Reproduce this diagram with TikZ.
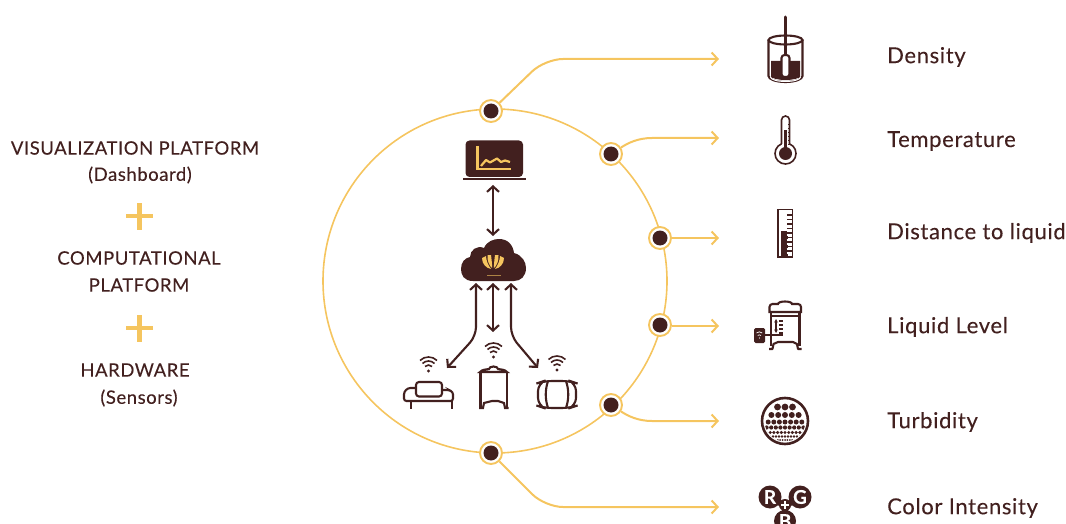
\documentclass[tikz,border=0pt]{standalone}
\usepackage{fontspec}
\setmainfont{Lato}[LetterSpace=3,FakeBold=0.12]
\usetikzlibrary{arrows.meta}
\definecolor{gold}{HTML}{F5C55F}
\definecolor{brn}{HTML}{42201F}
\tikzset{
  x=1pt,y=-1pt,
  hub/.style={circle,draw=gold,line width=1.9pt,fill=white,minimum size=22pt,inner sep=0pt,
    path picture={\fill[brn] (path picture bounding box.center) circle (7.5pt);}},
  link/.style={draw=gold,line width=2pt,rounded corners=18pt,-{Straight Barb[length=6pt,width=13pt]}},
  twoway/.style={draw=brn,line width=2.1pt,{Straight Barb[length=5.5pt,width=12pt]}-{Straight Barb[length=5.5pt,width=12pt]}},
  twowayr/.style={twoway,rounded corners=9pt},
  lab/.style={font=\fontsize{22}{24}\selectfont,text=brn,anchor=west,inner sep=0pt},
  ltxt/.style={font=\fontsize{18.5}{20}\selectfont,text=brn,inner sep=0pt},
  plusm/.style={draw=gold,line width=4.6pt},
  ic/.style={draw=brn,line width=2.1pt},
  wf/.style={draw=brn,line width=1.6pt},
  rgbt/.style={inner sep=0pt,text=white,font=\fontsize{19}{19}\selectfont\bfseries},
}
\newcommand{\wifi}[2]{%
  \fill[brn] (#1,#2) circle (1.6pt);
  \draw[wf] (#1-3.5,#2-4.5) arc[start angle=135,end angle=45,radius=5pt];
  \draw[wf] (#1-6,#2-7.5) arc[start angle=135,end angle=45,radius=8.5pt];
  \draw[wf] (#1-8.5,#2-10.5) arc[start angle=135,end angle=45,radius=12pt];
}
\begin{document}
\begin{tikzpicture}
\useasboundingbox (0,0) rectangle (1066,524);
\clip (0,0) rectangle (1066,524);
% main ring
\draw[gold,line width=1.6pt] (495,281) circle (172pt);
% hubs
\node[hub] (h1) at (491,111) {};
\node[hub] (h2) at (611,154) {};
\node[hub] (h3) at (660,238) {};
\node[hub] (h4) at (660,325) {};
\node[hub] (h5) at (611,405) {};
\node[hub] (h6) at (491,453) {};
\coordinate (t1) at (719,59);
\coordinate (t2) at (719,138);
\coordinate (t3) at (719,238);
\coordinate (t4) at (719,326);
\coordinate (t5) at (719,421);
\coordinate (t6) at (719,507);
\draw[link] (h1) -- (545,59) -- (t1);
\draw[link,rounded corners=0] (h2) .. controls (628,143) and (638,138) .. (652,138) -- (t2);
\draw[link] (h3) -- (t3);
\draw[link] (h4.east |- t4) -- (t4);
\draw[link,rounded corners=0] (h5) .. controls (628,416) and (638,421) .. (652,421) -- (t5);
\draw[link] (h6) -- (545,507) -- (t6);

% right labels
\node[lab] (l1) at (887,57) {Density};
\node[lab] (l2) at (887,141) {Temperature};
\node[lab] (l3) at (887,233) {Distance to liquid};
\node[lab] (l4) at (887,327) {Liquid Level};
\node[lab] (l5) at (887,422) {Turbidity};
\node[lab] (l6) at (887,508) {Color Intensity};

% left text
\node[ltxt] (a1) at (135,148) {VISUALIZATION PLATFORM};
\node[ltxt] (a2) at (140,175) {(Dashboard)};
\node[ltxt] (b1) at (139,258) {COMPUTATIONAL};
\node[ltxt] (b2) at (139,285) {PLATFORM};
\node[ltxt] (c1) at (135,370) {HARDWARE};
\node[ltxt] (c2) at (139,398) {(Sensors)};
\draw[plusm] (126,216) -- (153,216) (139.5,203) -- (139.5,230);
\draw[plusm] (126,328) -- (153,328) (139.5,315) -- (139.5,342);

% density icon
\fill[brn] (771,61) rectangle (800,78) (771,76) arc[start angle=180,end angle=360,x radius=14.5pt,y radius=4pt] -- cycle;
\draw[ic] (768.5,40) -- (768.5,76) arc[start angle=180,end angle=360,x radius=17pt,y radius=6pt] -- (802.5,40);
\draw[ic] (785.5,40) ellipse (17pt and 4.5pt);
\draw[ic,line width=3pt,line cap=round] (785.5,17) -- (785.5,56);
\draw[ic,fill=white,rounded corners=3pt] (781.5,55) rectangle (789.5,77);
\draw[white,line width=1pt] (770.5,77) arc[start angle=180,end angle=360,x radius=15pt,y radius=4.5pt];

% thermometer
\draw[ic,line width=1.6pt,fill=white] (781.5,143.8) -- (781.5,120) arc[start angle=180,end angle=0,radius=4pt] -- (789.5,143.8) arc[start angle=67.6,end angle=-247.6,radius=10.5pt];
\fill[brn] (785.5,153.5) circle (6.5pt);
\fill[brn] (784,130) rectangle (787,150);
\foreach \yy in {124,128,...,144}{\draw[brn,line width=.8pt] (788,\yy) -- (789.5,\yy);}

% ruler
\draw[ic,line width=1.6pt] (778,209.5) rectangle (792.5,257);
\fill[brn] (781,231) rectangle (788,256);
\foreach \yy in {215,219.5,...,252}{\draw[white,line width=1.6pt] (786.5,\yy+2.2) -- (792,\yy+2.2);\draw[brn,line width=1.4pt] (787,\yy) -- (792,\yy);}

% tank (liquid level)
\draw[ic,fill=white] (769.5,312) -- (769.5,307) arc[start angle=180,end angle=90,radius=3pt] -- (778,304) arc[start angle=180,end angle=0,x radius=7pt,y radius=2.5pt] -- (798,304) arc[start angle=90,end angle=0,radius=3pt] -- (801,312) -- cycle;
\draw[ic] (771,312) -- (771,346) (799.5,312) -- (799.5,346);
\draw[ic] (771,316) -- (799.5,316);
\draw[ic,line join=round] (769,349) -- (772.5,349) -- (773.5,344) -- (778,342) -- (793,342) -- (797,344) -- (798,349) -- (801.5,349);
\draw[ic,line width=1.2pt,{Stealth[length=3.5pt,width=3.5pt]}-{Stealth[length=3.5pt,width=3.5pt]}] (776,319) -- (776,333);
\foreach \yy in {321,325,329,333}{\draw[brn,line width=1.1pt] (779,\yy) -- (783,\yy);}
\draw[brn,line width=1.2pt] (765,335) -- (783,335);
\fill[brn,rounded corners=1.5pt] (754,328) rectangle (765,343);
\draw[white,line width=.7pt] (756.5,333) arc[start angle=135,end angle=45,radius=4pt];
\draw[white,line width=.7pt] (757.8,335.5) arc[start angle=135,end angle=45,radius=2.2pt];
\fill[white] (759.5,338) circle (.7pt);

% turbidity
\draw[ic,line width=2.6pt] (785,421) circle (23pt);
\begin{scope}
\clip (785,421) circle (20.5pt);
\foreach \yy/\rr/\st/\nn in {407/3.4/7.5/3,415/3/6.8/5,422/2.5/5.6/7,427.5/2.1/4.6/9,432.5/1.7/3.7/11,436.5/1.3/3/13,440/1/2.4/15}{
  \foreach \ii in {1,...,\nn}{\fill[brn] ({785+(\ii-(\nn+1)/2)*\st},\yy) circle (\rr pt);}
}
\end{scope}

% RGB
\draw[brn,line width=6pt] (770,497) -- (785,506) -- (800,497) (785,506) -- (785,520);
\fill[brn] (770,497) circle (11.5pt) (800,497) circle (11.5pt) (785,521) circle (11pt) (785,505) circle (6pt);
\node[rgbt] (cr) at (770,497) {R};
\node[rgbt] (cg) at (800,497) {G};
\node[rgbt] (cb) at (785,521) {B};
\draw[white,line width=1.6pt] (781,505) -- (789,505) (785,501) -- (785,509);

% laptop
\fill[brn,rounded corners=4pt] (465.5,140.5) rectangle (523,177);
\draw[brn,line width=1.6pt] (463,179) -- (526,179);
\draw[gold,line width=2.4pt] (477.5,146) -- (477.5,169) -- (511,169);
\draw[gold,line width=2.2pt,line join=round] (481,166) -- (486,160) -- (490,162.5) -- (497,158.5) -- (501,162) -- (505,160.5) -- (510,162);

% cloud
\fill[brn] (473,281) .. controls (464,281) and (461,275) .. (461,269)
  .. controls (461,262) and (465,258) .. (470,257)
  .. controls (470,250) and (477,245) .. (484,248)
  .. controls (487,241) and (494,239) .. (499,239)
  .. controls (508,239) and (513,245) .. (514,253)
  .. controls (522,255) and (526,262) .. (526,268)
  .. controls (526,276) and (521,281) .. (514,281) -- cycle;
\coordinate (cldtop) at (493,236);
\coordinate (cldbot) at (493,283);
\coordinate (cldl) at (476,283);
\coordinate (cldr) at (511,283);
\fill[gold] (482,258) .. controls (482,264) and (486,268) .. (491,269) .. controls (488,265) and (486,260) .. (486,256) -- cycle;
\fill[gold] (504,258) .. controls (504,264) and (500,268) .. (495,269) .. controls (498,265) and (500,260) .. (500,256) -- cycle;
\fill[gold] (487.5,255) .. controls (487,260) and (489,266) .. (492.2,268) .. controls (492,263) and (491.5,259) .. (491,255) -- cycle;
\fill[gold] (498.5,255) .. controls (499,260) and (497,266) .. (493.8,268) .. controls (494,263) and (494.5,259) .. (495,255) -- cycle;
\draw[gold!60!brn,line width=.8pt] (487,275) -- (501,275);

% connectors inside
\coordinate (lapbot) at (493,185);
\draw[twoway] (lapbot) -- (cldtop);
\coordinate (sl) at (447,368);
\coordinate (sm) at (493,332);
\coordinate (sr) at (538,368);
\draw[twowayr] (cldl) -- (476,336) -- (sl);
\draw[twoway] (cldbot) -- (sm);
\draw[twowayr] (cldr) -- (511,336) -- (sr);

% wifi
\wifi{428.5}{371}
\wifi{493.5}{357}
\wifi{557}{370}

% sofa
\draw[ic,rounded corners=3pt] (416,382) rectangle (442,396.5);
\draw[ic,rounded corners=2.5pt] (416,388) -- (408,388) -- (404,392) -- (404,401) -- (453,401) -- (453,392) -- (449,390) -- (442,390);
\draw[ic] (411,401) -- (411,409) (452,401) -- (452,409);

% small tank
\draw[ic] (480,372) .. controls (482,369.5) and (486,369.5) .. (489,369) arc[start angle=180,end angle=0,x radius=4.5pt,y radius=2.5pt] .. controls (501,369.5) and (505,369.5) .. (507,372) -- cycle;
\draw[ic] (480.5,372) -- (480.5,408) (507,372) -- (507,408);
\draw[ic] (479,408) -- (483,408) -- (484,403) -- (492,401) -- (498,401) -- (504,403) -- (505,408) -- (508.5,408);

% barrel
\draw[ic,rounded corners=8pt] (544,381) -- (570,381) -- (576,383) -- (576,406) -- (570,408) -- (544,408) -- (538,406) -- (538,383) -- cycle;
\draw[ic] (548,381) .. controls (545,390) and (545,399) .. (548,408);
\draw[ic] (566,381) .. controls (569,390) and (569,399) .. (566,408);
\end{tikzpicture}
\end{document}
